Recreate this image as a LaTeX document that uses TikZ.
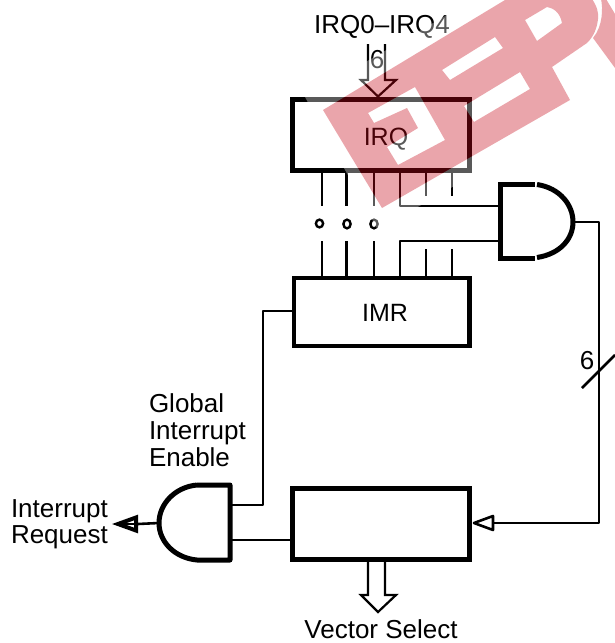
\documentclass[tikz,border=0pt]{standalone}
\usepackage{fontspec}
\setmainfont{Liberation Sans}
\begin{document}
\begin{tikzpicture}[x=1pt,y=-1pt,
  regbox/.style={draw=black,fill=white,line width=5pt,inner sep=0pt,outer sep=0pt,minimum width=177pt},
  wire/.style={draw=black,line width=2.6pt,line join=round},
  gateline/.style={draw=black,line width=5pt},
  bus/.style={draw=black,fill=white,line width=2.2pt,line join=miter},
  lbl/.style={inner sep=0pt,outer sep=0pt,font=\fontsize{26}{26.6}\selectfont},
  lblb/.style={lbl,font=\fontsize{25}{26}\selectfont}]
\useasboundingbox (0,0) rectangle (615,643);
\fill[white] (0,0) rectangle (615,643);

% registers
\node[regbox,minimum height=71pt] (irq) at (381,135) {};
\node[regbox,line width=4.6pt,minimum width=175.5pt,minimum height=68pt] (imr) at (381.7,312) {};
\node[regbox,minimum height=71pt] (vec) at (381,524) {};
\node[lblb] (irqt) at (386,139) {IRQ};
\node[lblb] (imrt) at (385,313) {IMR};

% column coordinates
\coordinate (c1) at (322,0);
\coordinate (c2) at (346.5,0);
\coordinate (c3) at (374,0);
\coordinate (c4) at (400,0);
\coordinate (c5) at (426,0);
\coordinate (c6) at (452,0);
\coordinate (up) at (0,206);
\coordinate (uq) at (0,196);
\coordinate (lo) at (0,241);
\coordinate (lq) at (0,249);

% gate 1
\coordinate (g1a) at (500,206);
\coordinate (g1b) at (500,241);
\coordinate (g1o) at (573,222);
\path[gateline] (535,184) -- (500,184) -- (500,258) -- (535,258);
\path[gateline] (537,184.5) .. controls (560,188) and (573,205) .. (g1o)
      .. controls (573,239) and (560,254) .. (537,257.5);

% gate 2
\coordinate (g2a) at (230,505);
\coordinate (g2b) at (230,540);
\coordinate (g2o) at (159,523);
\path[gateline,line join=round] (197,485) -- (230,485) -- (230,560) -- (197,560)
      .. controls (175,558) and (159,542) .. (g2o)
      .. controls (159,504) and (175,487) .. (197,485);

% wires IRQ to IMR
\path[wire] (irq.south -| c1) -- (c1 |- up);
\path[wire] (irq.south -| c2) -- (c2 |- up);
\path[wire] (irq.south -| c3) -- (c3 |- up);
\path[wire] (irq.south -| c4) -- (c4 |- up) -- (g1a);
\path[wire] (irq.south -| c5) -- (c5 |- uq);
\path[wire] (irq.south -| c6) -- (c6 |- uq);
\path[wire] (imr.north -| c1) -- (c1 |- lo);
\path[wire] (imr.north -| c2) -- (c2 |- lo);
\path[wire] (imr.north -| c3) -- (c3 |- lo);
\path[wire] (imr.north -| c4) -- (c4 |- lo) -- (g1b);
\path[wire] (imr.north -| c5) -- (c5 |- lq);
\path[wire] (imr.north -| c6) -- (c6 |- lq);

% dots
\draw[line width=2.4pt] (319.5,223.5) ellipse (3.6 and 3.9);
\draw[line width=2.4pt] (347,224) ellipse (3.6 and 4.4);
\draw[line width=2.4pt] (374,224) ellipse (3.6 and 4.4);

% output wire and slash
\coordinate (corner) at (599,222);
\coordinate (hb) at (493,523);
\path[wire] (g1o) -- (corner) -- (corner |- hb) -- (hb);
\path[wire,fill=white] (474,523) -- (493,516) -- (493,530) -- cycle;
\coordinate (s1) at (582,388);
\coordinate (s2) at (615,355);
\path[wire] (s1) -- (s2);
\node[lbl] (six) at (587,361) {6};

% global enable
\coordinate (gi) at (263,505);
\coordinate (gj) at (263,311);
\path[wire] (g2a) -- (gi) -- (gj) -- (imr.west |- gj);
\path[wire] (g2b) -- (vec.west |- g2b);

% interrupt request arrow
\coordinate (ra) at (138,524);
\path[wire] (g2o) -- (ra);
\path[draw=black,fill=white,line width=4pt,line join=miter] (118,524) -- (136,517.5) -- (136,530.5) -- cycle;
\draw[line width=1.4pt] (136,524) -- (122,524);

% bus arrows
\path[bus] (368,44) -- (368,80) -- (361,80) -- (378,96.5) -- (396,80) -- (385,80) -- (385,44);
\path[bus] (368,562) -- (368,595) -- (361,595) -- (378,612) -- (396,595) -- (385,595) -- (385,562);
\node[lbl] (six2) at (377,60) {6};

% labels
\node[lbl,anchor=base] (irqs) at (382,33) {IRQ0–IRQ4};
\node[lbl,anchor=base] (vs) at (381,638) {Vector Select};
\node[lbl,anchor=base west] (g1) at (149,412) {Global};
\node[lbl,anchor=base west] (g2) at (149,439) {Interrupt};
\node[lbl,anchor=base west] (g3) at (149,466) {Enable};
\node[lbl,anchor=base west] (r1) at (11,517) {Interrupt};
\node[lbl,anchor=base west] (r2) at (11,543) {Request};

% watermark
\begin{scope}
\clip (0,0) rectangle (615,643);
\def\markouter{(323,110) -- (505,0) -- (592,-1) .. controls (597,6) and (599,14) .. (598,19) .. controls (597,28) and (594,36) .. (587,43) -- (552,67) -- (570,100) -- (382,208) -- cycle}
\def\marknotches{
 (442,70) -- (495,37) -- (503,48) -- (450,80) -- cycle
 (520,72) -- (530,89) -- (474,122) -- (464,106) -- cycle
 (525,20) -- (547,7) .. controls (553,8) and (560,12) .. (562,23) -- (537,41) -- cycle
 (368,113) -- (415,87) -- (445,140) -- (398,165) -- (387,147) -- (418,128) -- (407,108) -- (374,123) -- cycle}
\def\markr{(601,-1) .. controls (603,8) and (603,26) .. (593,38) -- (615,68) -- (615,14) -- (606,-1) -- cycle}
\fill[white,fill opacity=.35,even odd rule] (305,97) -- (473,0) -- (615,0) -- (615,93) -- (378,230) -- cycle \markouter \marknotches \markr;
\fill[fill={rgb,1:red,.78;green,.03;blue,.09},fill opacity=.36,even odd rule] \markouter \marknotches;
\fill[fill={rgb,1:red,.78;green,.03;blue,.09},fill opacity=.36] \markr;
\end{scope}
\end{tikzpicture}
\end{document}
